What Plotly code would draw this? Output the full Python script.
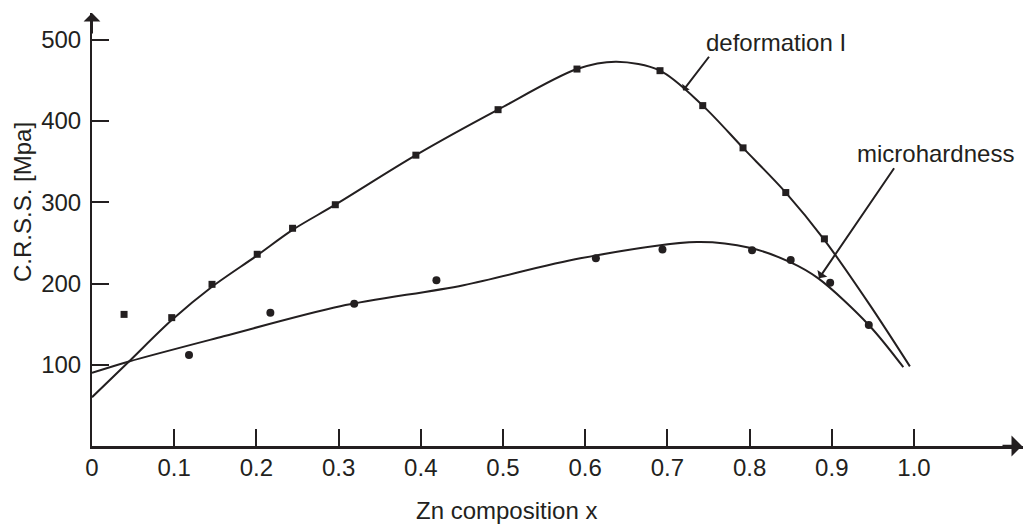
import plotly.graph_objects as go

# Measured points: deformation I (squares) and microhardness (circles)
def_x = [0.039, 0.097, 0.146, 0.201, 0.244, 0.296, 0.394, 0.494, 0.590, 0.691, 0.743, 0.792, 0.844, 0.891]
def_y = [162, 158, 199, 236, 268, 297, 358, 414, 464, 462, 419, 367, 312, 255]

mic_x = [0.118, 0.217, 0.319, 0.419, 0.613, 0.694, 0.803, 0.850, 0.898, 0.945]
mic_y = [112, 164, 175, 204, 231, 242, 241, 229, 201, 149]

# Hand-drawn trend curves through the data
def_curve_x = [0, 0.045, 0.097, 0.146, 0.200, 0.244, 0.296, 0.394, 0.494, 0.590, 0.638, 0.691,
               0.743, 0.792, 0.844, 0.890, 0.946, 0.995]
def_curve_y = [60, 104, 155, 196, 234, 266, 297, 358, 414, 464, 473, 462, 419, 367, 312, 255, 174, 98]

mic_curve_x = [0, 0.045, 0.160, 0.302, 0.452, 0.594, 0.736, 0.800, 0.850, 0.884, 0.945, 0.987]
mic_curve_y = [90, 104, 135, 172, 198, 231, 251, 244, 226, 206, 149, 97]

# Axis ticks
x_ticks = [0, 0.1, 0.2, 0.3, 0.4, 0.5, 0.6, 0.7, 0.8, 0.9, 1.0]
x_tick_text = ["0", "0.1", "0.2", "0.3", "0.4", "0.5", "0.6", "0.7", "0.8", "0.9", "1.0"]
y_ticks = [100, 200, 300, 400, 500]
y_tick_text = ["100", "200", "300", "400", "500"]

INK = "#231f20"
FONT = "Arial, Liberation Sans, sans-serif"
FS = 24

X_MAX = 1.1326
Y_MAX = 533

fig = go.Figure()

fig.add_trace(go.Scatter(x=def_curve_x, y=def_curve_y, mode="lines",
                         line=dict(color=INK, width=2, shape="spline", smoothing=0.9),
                         hoverinfo="skip", showlegend=False))
fig.add_trace(go.Scatter(x=mic_curve_x, y=mic_curve_y, mode="lines",
                         line=dict(color=INK, width=2, shape="spline", smoothing=0.9),
                         hoverinfo="skip", showlegend=False))
fig.add_trace(go.Scatter(x=def_x, y=def_y, mode="markers", name="deformation I",
                         marker=dict(symbol="square", size=7, color=INK),
                         showlegend=False))
fig.add_trace(go.Scatter(x=mic_x, y=mic_y, mode="markers", name="microhardness",
                         marker=dict(symbol="circle", size=8, color=INK),
                         showlegend=False))

annotations = [
    # axis titles
    dict(text="C.R.S.S. [Mpa]", xref="paper", yref="paper", x=-0.0752, y=0.5635,
         textangle=-90, showarrow=False, xanchor="center", yanchor="middle",
         font=dict(family=FONT, size=FS, color=INK)),
    dict(text="Zn composition x", xref="paper", yref="paper", x=0.4447, y=-0.148,
         showarrow=False, xanchor="center", yanchor="middle",
         font=dict(family=FONT, size=FS, color=INK)),
    # curve labels
    dict(text="deformation I", x=0.7445, y=497, showarrow=False,
         xanchor="left", yanchor="middle", font=dict(family=FONT, size=FS, color=INK)),
    dict(text="microhardness", x=0.928, y=360.6, showarrow=False,
         xanchor="left", yanchor="middle", font=dict(family=FONT, size=FS, color=INK)),
    # pointer arrows
    dict(text="", x=0.719, y=437.5, ax=0.752, ay=481, axref="x", ayref="y",
         showarrow=True, arrowhead=1, arrowsize=0.8, arrowwidth=2, arrowcolor=INK),
    dict(text="", x=0.8844, y=206.4, ax=0.977, ay=343.7, axref="x", ayref="y",
         showarrow=True, arrowhead=1, arrowsize=1.0, arrowwidth=2, arrowcolor=INK),
    # axis arrowheads
    dict(text="", xref="paper", yref="paper", x=0, y=1, ax=0, ay=22,
         showarrow=True, arrowhead=1, arrowsize=1.4, arrowwidth=2, arrowcolor=INK),
    dict(text="", xref="paper", yref="paper", x=1, y=0, ax=-22, ay=0,
         showarrow=True, arrowhead=1, arrowsize=1.4, arrowwidth=2.5, arrowcolor=INK),
]

fig.update_layout(
    width=1023, height=528,
    margin=dict(l=92, r=0, t=13, b=82),
    paper_bgcolor="white", plot_bgcolor="white",
    font=dict(family=FONT, size=FS, color=INK),
    annotations=annotations,
    xaxis=dict(range=[0, X_MAX], tickmode="array", tickvals=x_ticks, ticktext=x_tick_text,
               ticks="inside", ticklen=17, tickwidth=2, tickcolor=INK,
               showline=True, linecolor=INK, linewidth=3, showgrid=False, zeroline=False,
               ticklabelstandoff=-2, tickfont=dict(family=FONT, size=FS, color=INK)),
    yaxis=dict(range=[0, Y_MAX], tickmode="array", tickvals=y_ticks, ticktext=y_tick_text,
               ticks="inside", ticklen=17, tickwidth=2, tickcolor=INK,
               showline=True, linecolor=INK, linewidth=2, showgrid=False, zeroline=False,
               ticklabelstandoff=4, tickfont=dict(family=FONT, size=FS, color=INK)),
)

fig.write_html("out.html")
